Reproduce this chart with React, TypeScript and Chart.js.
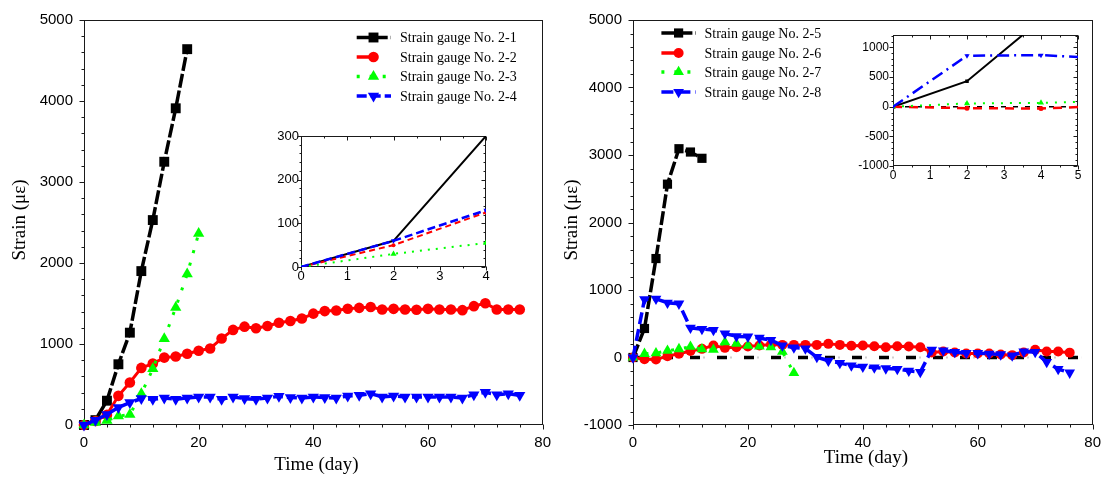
import React, { useEffect, useRef } from 'react';
import { Chart, registerables } from 'chart.js';

Chart.register(...registerables);

// ---------------- data ----------------
const daysLeft = [0, 2, 4, 6, 8, 10, 12, 14, 16, 18, 20, 22, 24, 26, 28, 30, 32, 34, 36, 38, 40, 42, 44, 46, 48, 50, 52, 54, 56, 58, 60, 62, 64, 66, 68, 70, 72, 74, 76];
const daysRight = [0, 2, 4, 6, 8, 10, 12, 14, 16, 18, 20, 22, 24, 26, 28, 30, 32, 34, 36, 38, 40, 42, 44, 46, 48, 50, 52, 54, 56, 58, 60, 62, 64, 66, 68, 70, 72, 74, 76];

const gauge2_1 = [0, 60, 300, 750, 1140, 1900, 2530, 3250, 3910, 4640];
const gauge2_2 = [0, 50, 125, 360, 525, 705, 758, 832, 845, 880, 917, 945, 1067, 1174, 1214, 1194, 1222, 1263, 1284, 1314, 1375, 1406, 1414, 1436, 1446, 1457, 1426, 1434, 1426, 1422, 1434, 1426, 1426, 1418, 1467, 1504, 1426, 1426, 1426];
const gauge2_3 = [0, 30, 55, 110, 130, 387, 693, 1066, 1450, 1863, 2364];
const gauge2_4 = [0, 60, 130, 216, 277, 326, 318, 334, 318, 334, 346, 346, 318, 346, 326, 318, 334, 355, 338, 334, 346, 338, 334, 359, 367, 387, 346, 359, 346, 346, 346, 346, 346, 334, 375, 405, 375, 387, 367];

const gauge2_5 = [0, 430, 1466, 2568, 3093, 3044, 2951];
const gauge2_6 = [0, -25, -30, 20, 55, 95, 128, 177, 143, 153, 163, 177, 192, 187, 187, 187, 187, 202, 187, 175, 177, 167, 153, 167, 163, 153, 75, 89, 75, 60, 60, 60, 45, 35, 75, 114, 89, 89, 72];
const gauge2_7 = [0, 55, 65, 100, 125, 160, 122, 117, 226, 207, 177, 165, 153, 85, -229];
const gauge2_8 = [0, 860, 870, 811, 797, 440, 421, 406, 355, 313, 308, 290, 257, 177, 148, 133, 5, -48, -83, -120, -138, -148, -162, -172, -197, -215, 115, 103, 80, 65, 64, 55, 45, 30, 86, 80, -68, -172, -225];

const zeroLineDays = [0, 78];
const zeroLineStrain = [0, 0];

// tick labels
const mainXTicks = [0, 20, 40, 60, 80];
const leftYTicks = [0, 1000, 2000, 3000, 4000, 5000];
const rightYTicks = [-1000, 0, 1000, 2000, 3000, 4000, 5000];
const leftInsetXTicks = [0, 1, 2, 3, 4];
const leftInsetYTicks = [0, 100, 200, 300];
const rightInsetXTicks = [0, 1, 2, 3, 4, 5];
const rightInsetYTicks = [-1000, -500, 0, 500, 1000];

const legendLeft = ['Strain gauge No. 2-1', 'Strain gauge No. 2-2', 'Strain gauge No. 2-3', 'Strain gauge No. 2-4'];
const legendRight = ['Strain gauge No. 2-5', 'Strain gauge No. 2-6', 'Strain gauge No. 2-7', 'Strain gauge No. 2-8'];

const xAxisTitle = 'Time (day)';
const yAxisTitle = 'Strain (\u03bc\u03b5)';

// ---------------- styling helpers ----------------
const SANS = "'Liberation Sans', Arial, Helvetica, sans-serif";
const SERIF = "'Liberation Serif', 'Times New Roman', Times, serif";

type PStyle = 'rect' | 'circle' | 'triangle' | false;

interface Spec {
  label?: string;
  days: number[];
  values: number[];
  color: string;
  width: number;
  dash: number[];
  dashOffset?: number;
  style: PStyle;
  r: number;
  rot: number;
  order: number;
  half?: boolean;
}

const pts = (days: number[], values: number[]) => values.map((v, i) => ({ x: days[i], y: v }));

function toDataset(s: Spec, clip: any) {
  return {
    label: s.label || '',
    data: pts(s.days, s.values),
    borderColor: s.color,
    backgroundColor: s.color,
    borderWidth: s.width,
    borderDash: s.dash,
    borderDashOffset: s.dashOffset || 0,
    pointStyle: s.style || 'circle',
    pointRadius: s.style ? s.r : 0,
    pointHoverRadius: 0,
    pointRotation: s.rot,
    pointBackgroundColor: s.color,
    pointBorderColor: s.color,
    pointBorderWidth: 0,
    tension: 0,
    fill: false,
    clip,
    order: s.order,
  };
}

function drawMarker(ctx: CanvasRenderingContext2D, style: PStyle, x: number, y: number, r: number, rotDeg: number, color: string) {
  if (!style) return;
  ctx.save();
  ctx.fillStyle = color;
  ctx.beginPath();
  if (style === 'rect') {
    const s = r * Math.SQRT1_2;
    ctx.rect(x - s, y - s, 2 * s, 2 * s);
  } else if (style === 'circle') {
    ctx.arc(x, y, r, 0, Math.PI * 2);
  } else {
    let a = (rotDeg * Math.PI) / 180;
    for (let k = 0; k < 3; k++) {
      const px = x + Math.sin(a) * r;
      const py = y - Math.cos(a) * r;
      if (k === 0) ctx.moveTo(px, py);
      else ctx.lineTo(px, py);
      a += (2 * Math.PI) / 3;
    }
    ctx.closePath();
  }
  ctx.fill();
  ctx.restore();
}

interface Decor {
  xMajor: number;
  xMinor: number;
  yMajor: number;
  yMinor: number;
  majorLen: number;
  minorLen: number;
  mirror: boolean;
  background?: boolean;
  xTitle?: { x: number; y: number };
  yTitle?: { x: number; y: number };
  legend?: { x1: number; x2: number; mx: number; tx: number; rows: number[]; items: Spec[] };
}

function decorPlugin(d: Decor) {
  return {
    id: 'decor',
    beforeDraw(chart: any) {
      if (!d.background) return;
      const a = chart.chartArea;
      const ctx = chart.ctx;
      ctx.save();
      ctx.fillStyle = '#ffffff';
      ctx.fillRect(a.left, a.top, a.right - a.left, a.bottom - a.top);
      ctx.restore();
    },
    beforeDatasetsDraw(chart: any) {
      const ctx: CanvasRenderingContext2D = chart.ctx;
      const a = chart.chartArea;
      const xs = chart.scales.x;
      const ys = chart.scales.y;
      ctx.save();
      ctx.strokeStyle = '#1a1a1a';
      ctx.lineWidth = 1;
      ctx.setLineDash([]);
      ctx.strokeRect(Math.round(a.left) + 0.5, Math.round(a.top) + 0.5, Math.round(a.right - a.left) - 1, Math.round(a.bottom - a.top) - 1);
      ctx.beginPath();
      const isMajor = (v: number, m: number) => Math.abs(v / m - Math.round(v / m)) < 1e-6;
      const L = Math.round(a.left) + 0.5;
      const R = Math.round(a.right) - 0.5;
      const T = Math.round(a.top) + 0.5;
      const B = Math.round(a.bottom) - 0.5;
      const nx = Math.round((xs.max - xs.min) / d.xMinor);
      for (let i = 0; i <= nx; i++) {
        const v = xs.min + i * d.xMinor;
        const px = Math.round(xs.getPixelForValue(v)) + 0.5;
        const len = isMajor(v, d.xMajor) ? d.majorLen : d.minorLen;
        ctx.moveTo(px, B);
        ctx.lineTo(px, B + len);
        if (d.mirror) {
          ctx.moveTo(px, T);
          ctx.lineTo(px, T + len);
        }
      }
      const ny = Math.floor((ys.max - ys.min) / d.yMinor + 1e-9);
      for (let i = 0; i <= ny; i++) {
        const v = ys.min + i * d.yMinor;
        const py = Math.round(ys.getPixelForValue(v)) + 0.5;
        const len = isMajor(v, d.yMajor) ? d.majorLen : d.minorLen;
        ctx.moveTo(L, py);
        ctx.lineTo(L - len, py);
        if (d.mirror) {
          ctx.moveTo(R, py);
          ctx.lineTo(R - len, py);
        }
      }
      ctx.stroke();
      ctx.restore();
    },
    afterDraw(chart: any) {
      const ctx: CanvasRenderingContext2D = chart.ctx;
      ctx.save();
      ctx.fillStyle = '#000';
      if (d.xTitle) {
        ctx.font = `19px ${SERIF}`;
        ctx.textAlign = 'center';
        ctx.textBaseline = 'middle';
        ctx.fillText(xAxisTitle, d.xTitle.x, d.xTitle.y);
      }
      if (d.yTitle) {
        ctx.save();
        ctx.translate(d.yTitle.x, d.yTitle.y);
        ctx.rotate(-Math.PI / 2);
        ctx.font = `19px ${SERIF}`;
        ctx.textAlign = 'center';
        ctx.textBaseline = 'middle';
        ctx.fillText(yAxisTitle, 0, 0);
        ctx.restore();
      }
      if (d.legend) {
        const lg = d.legend;
        lg.items.forEach((s, i) => {
          const y = lg.rows[i];
          ctx.save();
          ctx.strokeStyle = s.color;
          ctx.lineWidth = 3.5;
          ctx.setLineDash(s.dash);
          ctx.beginPath();
          ctx.moveTo(lg.x1, y);
          ctx.lineTo(s.half ? lg.mx : lg.x2, y);
          ctx.stroke();
          ctx.restore();
          drawMarker(ctx, s.style, lg.mx, y, s.r, s.rot, s.color);
          ctx.font = `14px ${SERIF}`;
          ctx.textAlign = 'left';
          ctx.textBaseline = 'middle';
          ctx.fillStyle = '#000';
          ctx.fillText(s.label || '', lg.tx, y + 1);
        });
      }
      ctx.restore();
    },
  };
}

interface AxisP {
  xMin: number; xMax: number; xTicks: number[];
  yMin: number; yMax: number; yTicks: number[];
  yWidth: number; xHeight: number; font: number; xPad: number; yPad: number;
}

function scalesCfg(p: AxisP) {
  const font = { family: SANS, size: p.font };
  return {
    x: {
      type: 'linear',
      min: p.xMin,
      max: p.xMax,
      afterBuildTicks: (s: any) => { s.ticks = p.xTicks.map((v) => ({ value: v })); },
      afterFit: (s: any) => { s.height = p.xHeight; },
      grid: { display: false, drawTicks: false },
      border: { display: false },
      ticks: { padding: p.xPad, font, color: '#000', maxRotation: 0, autoSkip: false, callback: (v: any) => String(v) },
    },
    y: {
      type: 'linear',
      min: p.yMin,
      max: p.yMax,
      afterBuildTicks: (s: any) => { s.ticks = p.yTicks.map((v) => ({ value: v })); },
      afterFit: (s: any) => { s.width = p.yWidth; },
      grid: { display: false, drawTicks: false },
      border: { display: false },
      ticks: { padding: p.yPad, font, color: '#000', autoSkip: false, callback: (v: any) => String(v) },
    },
  };
}

function makeConfig(specs: Spec[], clip: any, axis: AxisP, padding: any, decor: Decor) {
  return {
    type: 'line',
    data: { datasets: specs.map((s) => toDataset(s, clip)) },
    options: {
      animation: false,
      responsive: false,
      maintainAspectRatio: false,
      devicePixelRatio: 1,
      layout: { padding },
      plugins: { legend: { display: false }, tooltip: { enabled: false }, title: { display: false } },
      events: [],
      scales: scalesCfg(axis),
    },
    plugins: [decorPlugin(decor)],
  } as any;
}

// ---------------- series specs ----------------
const BLACK = '#000000';
const RED = '#ff0000';
const GREEN = '#00ff00';
const BLUE = '#0000ff';

const leftMain: Spec[] = [
  { label: legendLeft[0], days: daysLeft, values: gauge2_1, color: BLACK, width: 3.5, dash: [14, 3], style: 'rect', r: 7, rot: 0, order: 4 },
  { label: legendLeft[1], days: daysLeft, values: gauge2_2, color: RED, width: 3, dash: [], style: 'circle', r: 5.3, rot: 0, order: 3, half: true },
  { label: legendLeft[2], days: daysLeft, values: gauge2_3, color: GREEN, width: 3, dash: [3, 10], style: 'triangle', r: 6.5, rot: 0, order: 2 },
  { label: legendLeft[3], days: daysLeft, values: gauge2_4, color: BLUE, width: 3.5, dash: [10, 4], style: 'triangle', r: 6.5, rot: 180, order: 1 },
];

const leftInset: Spec[] = [
  { days: daysLeft, values: gauge2_1, color: BLACK, width: 2, dash: [], style: false, r: 0, rot: 0, order: 4 },
  { days: daysLeft, values: gauge2_2, color: RED, width: 2, dash: [6, 4], style: 'circle', r: 2, rot: 0, order: 3 },
  { days: daysLeft, values: gauge2_3, color: GREEN, width: 2, dash: [2, 6], style: 'triangle', r: 3.5, rot: 0, order: 2 },
  { days: daysLeft, values: gauge2_4, color: BLUE, width: 2.5, dash: [8, 4], style: 'triangle', r: 3, rot: 180, order: 1 },
];

const rightMain: Spec[] = [
  { days: zeroLineDays, values: zeroLineStrain, color: '#cfcfcf', width: 2, dash: [2, 25], dashOffset: 11, style: false, r: 0, rot: 0, order: 7 },
  { days: zeroLineDays, values: zeroLineStrain, color: BLACK, width: 3.5, dash: [10, 17], dashOffset: -3, style: false, r: 0, rot: 0, order: 6 },
  { label: legendRight[0], days: daysRight, values: gauge2_5, color: BLACK, width: 3.5, dash: [14, 3], style: 'rect', r: 6.5, rot: 0, order: 4 },
  { label: legendRight[1], days: daysRight, values: gauge2_6, color: RED, width: 3, dash: [], style: 'circle', r: 5, rot: 0, order: 3, half: true },
  { label: legendRight[2], days: daysRight, values: gauge2_7, color: GREEN, width: 3, dash: [3, 10], style: 'triangle', r: 6.2, rot: 0, order: 2 },
  { label: legendRight[3], days: daysRight, values: gauge2_8, color: BLUE, width: 3.5, dash: [12, 5], style: 'triangle', r: 6.2, rot: 180, order: 1 },
];

const rightInset: Spec[] = [
  { days: zeroLineDays, values: zeroLineStrain, color: BLACK, width: 1.5, dash: [5, 7], style: false, r: 0, rot: 0, order: 6 },
  { days: daysRight, values: gauge2_5, color: BLACK, width: 2, dash: [], style: 'rect', r: 2.5, rot: 0, order: 4 },
  { days: daysRight, values: gauge2_6, color: RED, width: 2.5, dash: [9, 7], style: 'circle', r: 2.5, rot: 0, order: 3 },
  { days: daysRight, values: gauge2_7, color: GREEN, width: 2, dash: [2, 7], style: 'triangle', r: 3.5, rot: 0, order: 2 },
  { days: daysRight, values: gauge2_8, color: BLUE, width: 2.5, dash: [12, 5, 2, 5], style: 'triangle', r: 3, rot: 180, order: 1 },
];

// ---------------- components ----------------
function ChartBox(props: { left: number; top: number; width: number; height: number; build: () => any }) {
  const ref = useRef<HTMLCanvasElement>(null);
  useEffect(() => {
    const chart = new Chart(ref.current as HTMLCanvasElement, props.build());
    return () => chart.destroy();
  }, []);
  return (
    <canvas
      ref={ref}
      width={props.width}
      height={props.height}
      style={{ position: 'absolute', left: props.left, top: props.top, width: props.width, height: props.height }}
    />
  );
}

export default function App() {
  return (
    <div style={{ position: 'absolute', left: 0, top: 0, width: 1110, height: 478, background: '#fff', overflow: 'hidden' }}>
      <ChartBox
        left={0} top={0} width={560} height={478}
        build={() =>
          makeConfig(
            leftMain, false,
            { xMin: 0, xMax: 80, xTicks: mainXTicks, yMin: 0, yMax: 5000, yTicks: leftYTicks, yWidth: 84, xHeight: 53, font: 15, xPad: 9, yPad: 11 },
            { left: 0, right: 11, top: 16, bottom: 0 },
            {
              xMajor: 20, xMinor: 4, yMajor: 1000, yMinor: 200, majorLen: 5, minorLen: 3, mirror: false,
              xTitle: { x: 316.5, y: 465 }, yTitle: { x: 20, y: 220 },
              legend: { x1: 356.7, x2: 391, mx: 373.5, tx: 400, rows: [37.5, 57, 76.5, 96], items: leftMain },
            },
          )
        }
      />
      <ChartBox
        left={560} top={0} width={550} height={478}
        build={() =>
          makeConfig(
            rightMain, false,
            { xMin: 0, xMax: 80, xTicks: mainXTicks, yMin: -1000, yMax: 5000, yTicks: rightYTicks, yWidth: 73, xHeight: 53, font: 15, xPad: 9, yPad: 11 },
            { left: 0, right: 11, top: 16, bottom: 0 },
            {
              xMajor: 20, xMinor: 4, yMajor: 1000, yMinor: 200, majorLen: 5, minorLen: 3, mirror: false,
              xTitle: { x: 306, y: 458 }, yTitle: { x: 12, y: 220 },
              legend: { x1: 101.4, x2: 135.9, mx: 118.6, tx: 144.5, rows: [33, 53, 72, 92], items: rightMain.slice(2) },
            },
          )
        }
      />
      <ChartBox
        left={250} top={120} width={250} height={165}
        build={() =>
          makeConfig(
            leftInset, 0,
            { xMin: 0, xMax: 4, xTicks: leftInsetXTicks, yMin: 0, yMax: 300, yTicks: leftInsetYTicks, yWidth: 51, xHeight: 18, font: 13, xPad: 2, yPad: 2 },
            { left: 0, right: 14, top: 16, bottom: 0 },
            { xMajor: 1, xMinor: 0.5, yMajor: 100, yMinor: 20, majorLen: 4, minorLen: 2, mirror: true, background: true },
          )
        }
      />
      <ChartBox
        left={840} top={20} width={260} height={170}
        build={() =>
          makeConfig(
            rightInset, 0,
            { xMin: 0, xMax: 5, xTicks: rightInsetXTicks, yMin: -1000, yMax: 1210, yTicks: rightInsetYTicks, yWidth: 53, xHeight: 24, font: 12, xPad: 2.5, yPad: 4 },
            { left: 0, right: 22, top: 15, bottom: 0 },
            { xMajor: 1, xMinor: 0.5, yMajor: 500, yMinor: 100, majorLen: 4, minorLen: 2, mirror: true, background: true },
          )
        }
      />
    </div>
  );
}
